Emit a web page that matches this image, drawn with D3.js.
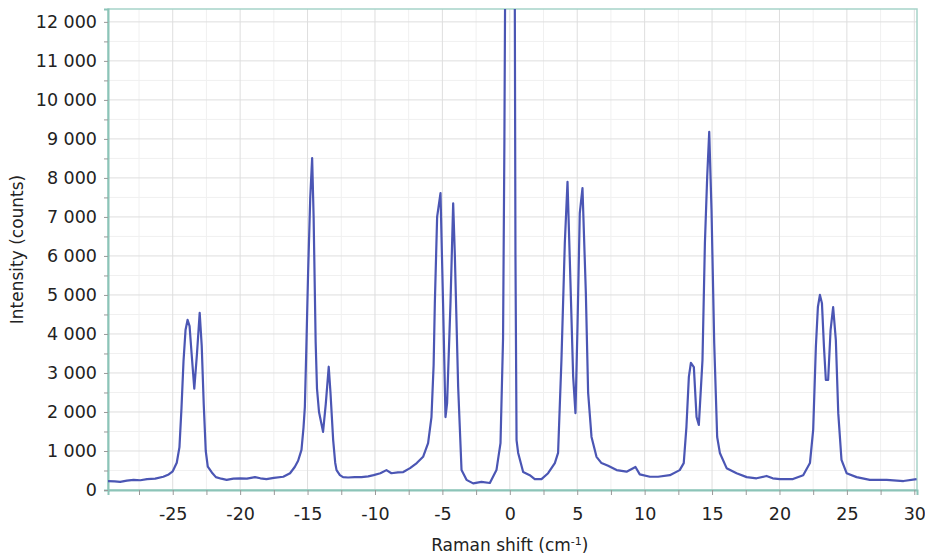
<!DOCTYPE html>
<html>
<head>
<meta charset="utf-8">
<script src="https://cdn.jsdelivr.net/npm/d3@7"></script>
<style>
  body { margin: 0; background: #fff; }
  text { font-family: "DejaVu Sans", sans-serif; fill: #222; }
</style>
</head>
<body>
<div id="chart"></div>
<script>
// raman shift (cm-1) and intensity (counts)
const shift = [-29.8, -29.3, -28.9, -28.4, -27.9, -27.4, -26.9, -26.3, -25.7, -25.3, -25.0, -24.7, -24.5, -24.35, -24.2, -24.05, -23.9, -23.75, -23.6, -23.4, -23.2, -23.0, -22.85, -22.7, -22.55, -22.4, -22.1, -21.8, -21.4, -21.0, -20.5, -20.0, -19.5, -18.9, -18.5, -18.05, -17.5, -16.8, -16.3, -15.95, -15.7, -15.45, -15.3, -15.2, -15.1, -14.96, -14.8, -14.66, -14.55, -14.4, -14.3, -14.15, -13.85, -13.65, -13.43, -13.3, -13.1, -12.95, -12.85, -12.6, -12.37, -12.0, -11.5, -11.0, -10.5, -10.1, -9.6, -9.15, -8.78, -8.3, -7.9, -7.4, -6.9, -6.43, -6.06, -5.81, -5.65, -5.56, -5.39, -5.14, -4.95, -4.77, -4.65, -4.4, -4.2, -4.08, -3.83, -3.58, -3.21, -2.72, -2.1, -1.48, -0.99, -0.69, -0.5, -0.4, -0.33, 0, 0.36, 0.42, 0.5, 0.62, 0.99, 1.48, 1.85, 2.35, 2.84, 3.34, 3.58, 3.83, 4.08, 4.28, 4.45, 4.7, 4.87, 5.02, 5.19, 5.39, 5.64, 5.81, 6.06, 6.43, 6.8, 7.29, 7.92, 8.66, 9.32, 9.64, 10.39, 11.0, 11.87, 12.6, 12.9, 13.1, 13.28, 13.43, 13.65, 13.85, 14.02, 14.29, 14.47, 14.64, 14.79, 14.96, 15.16, 15.38, 15.58, 16.08, 16.82, 17.57, 18.3, 19.04, 19.5, 20.03, 21.0, 21.76, 22.26, 22.5, 22.7, 22.85, 23.0, 23.15, 23.3, 23.44, 23.61, 23.79, 23.98, 24.18, 24.36, 24.6, 24.98, 25.72, 26.7, 27.95, 29.2, 30.17];
const counts = [230, 220, 210, 240, 260, 250, 280, 290, 340, 400, 480, 700, 1100, 2100, 3300, 4100, 4360, 4200, 3500, 2600, 3500, 4540, 3700, 2200, 1000, 600, 450, 330, 290, 260, 290, 300, 290, 330, 300, 280, 310, 340, 430, 590, 750, 1030, 1600, 2130, 3500, 5560, 7500, 8510, 7000, 3800, 2600, 2000, 1490, 2200, 3160, 2500, 1280, 700, 510, 380, 330, 320, 330, 330, 350, 380, 430, 510, 430, 450, 460, 560, 690, 850, 1200, 1870, 3200, 4790, 7000, 7610, 4790, 1870, 2230, 4790, 7350, 6070, 2640, 510, 260, 170, 210, 180, 510, 1200, 3900, 9000, 14000, 40000, 14000, 6000, 1280, 950, 460, 380, 280, 280, 430, 690, 950, 3330, 6330, 7900, 5900, 2900, 1970, 4180, 7100, 7740, 5050, 2490, 1360, 850, 690, 620, 510, 470, 590, 400, 340, 340, 380, 510, 690, 1620, 2900, 3260, 3150, 1870, 1670, 3330, 6330, 8030, 9180, 7180, 3770, 1360, 950, 560, 430, 330, 300, 360, 300, 280, 280, 380, 690, 1540, 3670, 4690, 5000, 4790, 3670, 2820, 2820, 4100, 4690, 3850, 1970, 770, 430, 330, 260, 260, 230, 280];

const xTicks = [-25, -20, -15, -10, -5, 0, 5, 10, 15, 20, 25, 30];
const yTicks = [0, 1000, 2000, 3000, 4000, 5000, 6000, 7000, 8000, 9000, 10000, 11000, 12000];

const width = 925;
const height = 557;
const margin = { top: 9, right: 8, bottom: 67, left: 108 };

const svg = d3.select('#chart')
    .append('svg')
    .attr('width', width)
    .attr('height', height);

const x = d3.scaleLinear()
    .domain([-29.8, 30.2])
    .range([margin.left, width - margin.right]);

const y = d3.scaleLinear()
    .domain([0, 12330])
    .range([height - margin.bottom, margin.top]);

const fmt = d3.formatLocale({ decimal: ".", thousands: "\u00a0", grouping: [3], currency: ["", ""] }).format(",");

// minor grid
const minorX = d3.range(-27.5, 30.1, 5);
const minorY = d3.range(500, 12330, 1000);
svg.append('g')
    .selectAll('line')
    .data(minorX)
    .join('line')
    .attr('x1', d => x(d)).attr('x2', d => x(d))
    .attr('y1', y(0)).attr('y2', y.range()[1])
    .attr('stroke', '#f0f0f0');
svg.append('g')
    .selectAll('line')
    .data(minorY)
    .join('line')
    .attr('y1', d => y(d)).attr('y2', d => y(d))
    .attr('x1', x.range()[0]).attr('x2', x.range()[1])
    .attr('stroke', '#f0f0f0');

// major grid
svg.append('g')
    .selectAll('line')
    .data(xTicks)
    .join('line')
    .attr('x1', d => x(d)).attr('x2', d => x(d))
    .attr('y1', y(0)).attr('y2', y.range()[1])
    .attr('stroke', '#dedede');
svg.append('g')
    .selectAll('line')
    .data(yTicks.slice(1))
    .join('line')
    .attr('y1', d => y(d)).attr('y2', d => y(d))
    .attr('x1', x.range()[0]).attr('x2', x.range()[1])
    .attr('stroke', '#dedede');

// frame
svg.append('rect')
    .attr('x', x.range()[0])
    .attr('y', y.range()[1])
    .attr('width', x.range()[1] - x.range()[0])
    .attr('height', y(0) - y.range()[1])
    .attr('fill', 'none')
    .attr('stroke', '#a6d3c9')
    .attr('stroke-width', 1.5);

// axes
function xAxis(g) {
    g.attr('transform', `translate(0,${y(0)})`)
        .call(d3.axisBottom(x).tickValues(d3.range(-27.5, 30.1, 2.5)).tickSize(5).tickFormat(d => xTicks.includes(d) ? d : ''))
        .call(g => g.select('.domain').attr('stroke', '#8cc4b8').attr('stroke-width', 2))
        .call(g => g.selectAll('.tick line').attr('stroke', '#999'))
        .call(g => g.selectAll('.tick text').attr('font-size', '17.5px').attr('dy', '1.25em').attr('fill', '#222'));
}
function yAxis(g) {
    g.attr('transform', `translate(${x.range()[0]},0)`)
        .call(d3.axisLeft(y).tickValues(d3.range(0, 12330, 500)).tickSize(4).tickFormat(d => yTicks.includes(d) ? fmt(d) : ''))
        .call(g => g.select('.domain').attr('stroke', '#8cc4b8').attr('stroke-width', 2))
        .call(g => g.selectAll('.tick line').attr('stroke', '#999'))
        .call(g => g.selectAll('.tick text').attr('font-size', '17.5px').attr('x', -11).attr('fill', '#222'));
}
svg.append('g').call(xAxis);
svg.append('g').call(yAxis);

// spectrum
svg.append('clipPath').attr('id', 'clip')
    .append('rect')
    .attr('x', x.range()[0]).attr('y', y.range()[1])
    .attr('width', x.range()[1] - x.range()[0])
    .attr('height', y(0) - y.range()[1]);

const pts = shift.map((d, i) => [d, counts[i]]);
svg.append('path')
    .datum(pts)
    .attr('clip-path', 'url(#clip)')
    .attr('fill', 'none')
    .attr('stroke', '#4b56b4')
    .attr('stroke-width', 2.2)
    .attr('stroke-linejoin', 'round')
    .attr('d', d3.line().x(d => x(d[0])).y(d => y(d[1])));

// labels
const xl = svg.append('text')
    .attr('x', x(0))
    .attr('y', 551)
    .attr('text-anchor', 'middle')
    .attr('font-size', '17px');
xl.append('tspan').text('Raman shift (cm');
xl.append('tspan').attr('font-size', '11px').attr('dy', -6).text('-1');
xl.append('tspan').attr('dy', 6).text(')');

svg.append('text')
    .attr('transform', `translate(23,${(y(0) + y.range()[1]) / 2}) rotate(-90)`)
    .attr('text-anchor', 'middle')
    .attr('font-size', '17px')
    .text('Intensity (counts)');
</script>
</body>
</html>
